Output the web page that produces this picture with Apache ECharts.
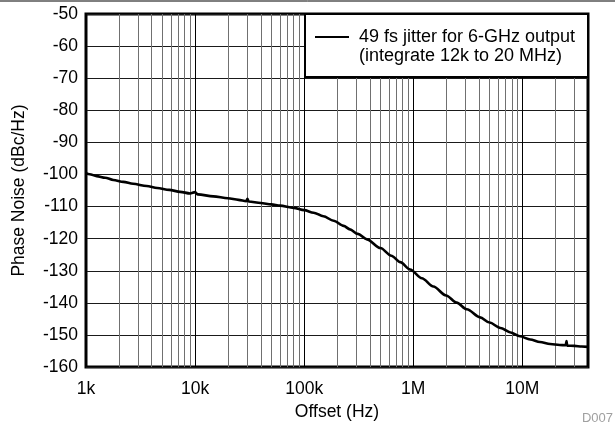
<!DOCTYPE html>
<html>
<head>
<meta charset="utf-8">
<script src="https://cdn.jsdelivr.net/npm/echarts@6/dist/echarts.min.js"></script>
<style>html,body{margin:0;padding:0;background:#fff}#c{width:615px;height:426px}</style>
</head>
<body>
<div id="c"></div>
<script>
const freqHz = [1000,1080,1250,1500,1780,2200,2700,3600,4500,5800,7300,9000,10000,10600,14700,20000,25000,29500,30200,31000,40000,50000,60000,80000,100000,122000,150000,186000,230000,263000,310000,376000,500000,630000,760000,937000,1200000,1530000,2000000,2500000,3100000,4100000,5000000,6300000,7800000,9500000,11800000,14500000,18000000,22000000,25000000,25400000,25800000,30000000,35000000,40000000];
const noiseDbc = [-99.6,-99.9,-100.5,-101.0,-101.7,-102.3,-102.9,-103.6,-104.2,-104.8,-105.4,-105.9,-105.5,-106.2,-106.8,-107.4,-107.9,-108.3,-107.6,-108.4,-108.9,-109.3,-109.7,-110.4,-111.1,-111.9,-113.0,-114.4,-116.0,-117.1,-118.5,-120.2,-122.9,-125.3,-127.3,-129.6,-132.3,-134.9,-137.7,-139.9,-142.0,-144.5,-146.1,-147.8,-149.2,-150.4,-151.4,-152.2,-152.8,-153.1,-153.2,-151.9,-153.3,-153.4,-153.6,-153.7];
const xTickLabels = {1000:'1k',10000:'10k',100000:'100k',1000000:'1M',10000000:'10M'};
const minorGridHz = [2000,3000,4000,5000,6000,7000,8000,9000,20000,30000,40000,50000,60000,70000,80000,90000,200000,300000,400000,500000,600000,700000,800000,900000,2000000,3000000,4000000,5000000,6000000,7000000,8000000,9000000,20000000,30000000];
const seriesName = '49 fs jitter for 6-GHz output';
const legendLine2 = '(integrate 12k to 20 MHz)';
const xTitle = 'Offset (Hz)';
const yTitle = 'Phase Noise (dBc/Hz)';
const figId = 'D007';

const FONT = 'Liberation Sans, Arial, Helvetica, sans-serif';
const chart = echarts.init(document.getElementById('c'), null, {renderer: 'canvas'});
chart.setOption({
  animation: false,
  backgroundColor: '#fff',
  textStyle: {fontFamily: FONT},
  grid: {left: 86, right: 27, top: 14, bottom: 58, show: true, borderColor: '#000', borderWidth: 3, backgroundColor: 'transparent'},
  xAxis: {
    type: 'log', logBase: 10, min: 1000, max: 40000000,
    name: xTitle, nameLocation: 'middle', nameGap: 33,
    nameTextStyle: {color: '#000', fontSize: 17.5, fontFamily: FONT},
    axisLine: {show: false}, axisTick: {show: false},
    axisLabel: {color: '#000', fontSize: 17.5, fontFamily: FONT, margin: 13,
      formatter: v => xTickLabels[Math.round(v)] || ''},
    splitLine: {show: true, lineStyle: {color: '#000', width: 1}}
  },
  yAxis: {
    type: 'value', min: -160, max: -50, interval: 10,
    name: yTitle, nameLocation: 'middle', nameGap: 58,
    nameTextStyle: {color: '#000', fontSize: 17.5, fontFamily: FONT},
    axisLine: {show: false}, axisTick: {show: false},
    axisLabel: {color: '#000', fontSize: 17.5, fontFamily: FONT, margin: 8},
    splitLine: {show: true, lineStyle: {color: '#1a1a1a', width: 1}}
  },
  legend: {
    show: true, left: 315, top: 28, z: 30, padding: 0,
    itemWidth: 34, itemHeight: 14,
    textStyle: {color: '#000', fontSize: 18, fontFamily: FONT, padding: [0,0,0,5]},
    data: [{name: seriesName, icon: 'path://M0,0L34,0L34,2L0,2Z', itemStyle: {color: '#000'}}]
  },
  graphic: [
    {type: 'rect', z: 25, zlevel: 0, shape: {x: 305, y: 14, width: 283, height: 63}, style: {fill: '#fff', stroke: '#000', lineWidth: 2}},
    {type: 'text', z: 30, left: 359, top: 47, style: {text: legendLine2, fill: '#000', fontSize: 18, fontFamily: FONT}},
    {type: 'line', z: 30, shape: {x1: 0, y1: 1, x2: 615, y2: 1}, style: {stroke: '#000', lineWidth: 1}},
    {type: 'text', right: 2, top: 412, style: {text: figId, fill: '#a0a0a0', fontSize: 13, fontFamily: FONT}}
  ],
  series: [
    {
      type: 'line', name: 'minor', z: 1, data: [], silent: true,
      markLine: {silent: true, symbol: ['none','none'], label: {show: false},
        lineStyle: {color: '#707070', type: 'solid', width: 1},
        emphasis: {disabled: true},
        data: minorGridHz.map(f => ({xAxis: f}))}
    },
    {
      type: 'line', name: seriesName, z: 10, showSymbol: false, symbol: 'none',
      smooth: 0.3, smoothMonotone: 'x',
      lineStyle: {color: '#000', width: 2.6}, itemStyle: {color: '#000'},
      data: freqHz.map((f, i) => [f, noiseDbc[i]])
    }
  ]
});
</script>
</body>
</html>
